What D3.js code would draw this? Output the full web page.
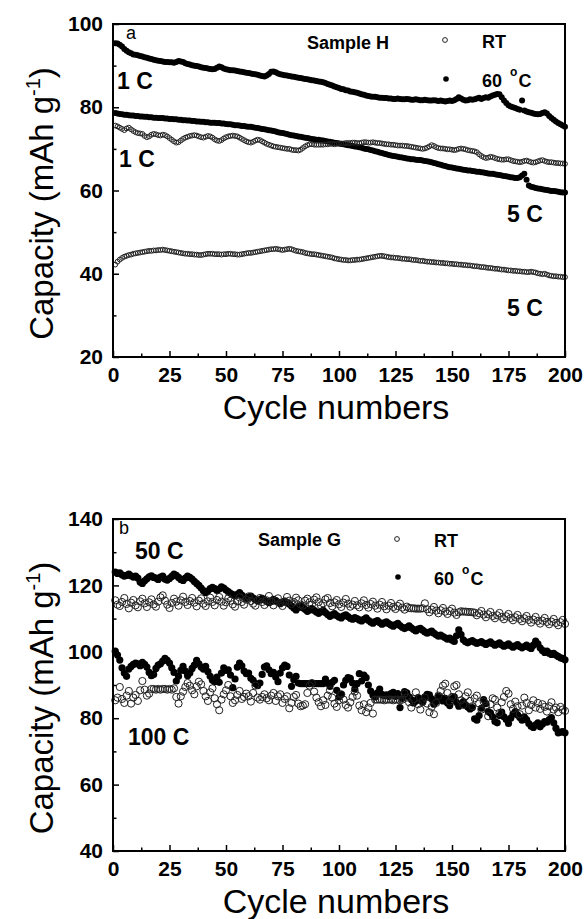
<!DOCTYPE html>
<html>
<head>
<meta charset="utf-8">
<script src="https://d3js.org/d3.v7.min.js"></script>
<style>
  body { margin: 0; background: #fff; }
  svg text { font-family: "Liberation Sans", Arial, sans-serif; fill: #000; }
  .axis text { font-weight: bold; font-size: 21px; }
  .axis line { stroke: #000; stroke-width: 1.5; }
  .axis .domain { stroke: none; }
  .lbl { font-weight: bold; font-size: 23px; }
  .leg { font-weight: bold; font-size: 18px; }
</style>
</head>
<body>
<svg id="chart" width="588" height="919"></svg>
<script>
// cycle numbers 1..200 for every series
const cycles = d3.range(1, 201);
const xTicks = [0, 25, 50, 75, 100, 125, 150, 175, 200];
const xMinor = [12.5, 37.5, 62.5, 87.5, 112.5, 137.5, 162.5, 187.5];
const yTicksH = [20, 40, 60, 80, 100];
const yMinorH = [30, 50, 70, 90];
const yTicksG = [40, 60, 80, 100, 120, 140];
const yMinorG = [50, 70, 90, 110, 130];

// Sample H, 60 C, 1 C rate
const h60_1C = [
  95.4, 95.3, 95.0, 94.6, 94.0, 93.6, 93.2, 93.0, 92.7, 92.6,
  92.5, 92.3, 92.2, 92.0, 91.9, 91.7, 91.6, 91.4, 91.3, 91.2,
  91.1, 91.0, 90.9, 90.9, 90.8, 90.8, 90.7, 90.9, 91.1, 91.0,
  90.9, 90.6, 90.4, 90.3, 90.1, 90.0, 89.9, 89.8, 89.6, 89.5,
  89.4, 89.3, 89.2, 89.1, 89.2, 89.5, 89.8, 89.6, 89.3, 89.1,
  89.0, 88.9, 88.9, 88.8, 88.7, 88.6, 88.5, 88.4, 88.3, 88.2,
  88.1, 88.0, 87.9, 87.8, 87.6, 87.5, 87.4, 87.6, 88.0, 88.5,
  88.6, 88.4, 88.1, 87.9, 87.8, 87.7, 87.6, 87.5, 87.4, 87.3,
  87.2, 87.1, 87.0, 86.9, 86.8, 86.7, 86.6, 86.5, 86.4, 86.3,
  86.2, 86.1, 86.0, 85.8, 85.6, 85.4, 85.2, 85.0, 84.8, 84.6,
  84.4, 84.3, 84.1, 84.0, 83.8, 83.7, 83.6, 83.5, 83.3, 83.1,
  83.0, 82.8, 82.7, 82.6, 82.5, 82.5, 82.4, 82.3, 82.3, 82.2,
  82.2, 82.1, 82.1, 82.0, 82.0, 82.1, 82.0, 81.9, 81.9, 82.0,
  81.9, 81.8, 81.8, 81.9, 81.8, 81.7, 81.7, 81.8, 81.7, 81.6,
  81.6, 81.7, 81.6, 81.5, 81.6, 81.5, 81.4, 81.5, 81.6, 81.5,
  81.7, 82.0, 82.4, 82.1, 81.8, 81.6, 81.7, 81.9, 81.8, 81.9,
  82.1, 82.3, 82.0, 82.2, 82.4, 82.3, 82.6, 82.8, 83.0, 83.2,
  83.1, 82.4, 81.6, 81.0, 80.5, 80.2, 80.0, 79.8, 79.6, 79.4,
  81.6, 79.2, 79.0, 78.8, 78.7, 78.5, 78.4, 78.3, 78.4, 78.6,
  78.8, 78.5, 77.9, 77.4, 77.0, 76.6, 76.2, 75.9, 75.6, 75.3
];
// Sample H, 60 C, 5 C rate
const h60_5C = [
  78.6, 78.5, 78.4, 78.3, 78.2, 78.2, 78.1, 78.0, 78.0, 77.9,
  77.9, 77.8, 77.8, 77.7, 77.7, 77.6, 77.6, 77.5, 77.5, 77.4,
  77.4, 77.4, 77.3, 77.3, 77.2, 77.2, 77.1, 77.1, 77.0, 77.0,
  76.9, 76.9, 76.8, 76.8, 76.7, 76.7, 76.6, 76.6, 76.5, 76.5,
  76.4, 76.4, 76.3, 76.3, 76.3, 76.2, 76.2, 76.1, 76.1, 76.0,
  75.9, 75.9, 75.8, 75.7, 75.7, 75.6, 75.5, 75.5, 75.4, 75.3,
  75.3, 75.2, 75.1, 75.0, 74.9, 74.8, 74.7, 74.6, 74.5, 74.4,
  74.3, 74.2, 74.0, 73.9, 73.8, 73.7, 73.6, 73.4, 73.3, 73.2,
  73.1, 73.0, 72.9, 72.8, 72.7, 72.6, 72.5, 72.4, 72.3, 72.2,
  72.2, 72.1, 72.0, 71.9, 71.8, 71.7, 71.6, 71.5, 71.4, 71.3,
  71.2, 71.1, 71.0, 70.9, 70.8, 70.7, 70.6, 70.5, 70.4, 70.3,
  70.1, 70.0, 69.9, 69.7, 69.6, 69.4, 69.3, 69.1, 69.0, 68.8,
  68.7, 68.5, 68.4, 68.3, 68.2, 68.1, 68.0, 67.9, 67.8, 67.7,
  67.6, 67.5, 67.5, 67.4, 67.3, 67.3, 67.2, 67.1, 67.0, 66.9,
  66.8, 66.6, 66.5, 66.3, 66.2, 66.0, 65.9, 65.7, 65.6, 65.5,
  65.4, 65.3, 65.2, 65.1, 65.0, 64.9, 64.8, 64.8, 64.7, 64.6,
  64.5, 64.5, 64.4, 64.3, 64.2, 64.1, 64.0, 64.0, 63.9, 63.8,
  63.7, 63.6, 63.5, 63.4, 63.3, 63.2, 63.1, 63.0, 63.0, 63.2,
  63.6, 64.0, 62.6, 61.2, 60.9, 60.8, 60.6, 60.5, 60.4, 60.3,
  60.2, 60.1, 60.0, 59.9, 59.9, 59.8, 59.7, 59.6, 59.5, 59.5
];
// Sample H, room temperature, 1 C rate
const hRT_1C = [
  75.6, 75.4, 75.1, 74.8, 74.5, 74.9, 75.1, 74.7, 74.3, 74.0,
  73.8, 73.7, 73.6, 73.1, 72.8, 73.0, 73.4, 73.6, 73.5, 73.3,
  73.2, 73.4, 73.3, 73.0, 72.6, 72.2, 71.8, 71.5, 71.6, 72.0,
  72.4, 72.7, 72.9, 73.1, 73.2, 73.3, 73.2, 73.0, 72.8, 72.7,
  72.9, 73.1, 73.0, 72.7, 72.3, 72.0, 71.9, 72.1, 72.5, 72.8,
  73.0, 73.1, 73.2, 73.1, 73.0, 72.7, 72.4, 72.1, 71.8, 71.6,
  71.5, 71.7, 72.0, 72.2, 72.1, 71.8, 71.5, 71.2, 71.0, 70.8,
  70.6, 70.5, 70.4, 70.3, 70.2, 70.1, 70.0, 70.0, 69.8, 69.7,
  69.7, 69.6, 69.8, 70.2, 70.6, 70.9, 71.1, 71.1, 71.0, 71.0,
  71.0, 71.0, 71.0, 71.1, 71.1, 71.2, 71.2, 71.1, 71.2, 71.3,
  71.3, 71.3, 71.4, 71.4, 71.4, 71.5, 71.5, 71.4, 71.4, 71.5,
  71.6, 71.6, 71.5, 71.5, 71.6, 71.5, 71.4, 71.4, 71.3, 71.2,
  71.1, 71.1, 71.0, 71.0, 70.9, 70.8, 70.8, 70.8, 70.7, 70.7,
  70.6, 70.5, 70.4, 70.3, 70.2, 70.1, 70.0, 70.1, 70.3, 70.6,
  70.9, 70.7, 70.4, 70.2, 70.1, 70.1, 70.0, 69.9, 69.9, 69.8,
  69.7, 69.8, 70.0, 70.1, 70.0, 69.9, 69.7, 69.6, 69.5, 69.4,
  69.2, 68.7, 68.3, 68.0, 67.8, 67.9, 68.1, 68.0, 67.8, 67.6,
  67.5, 67.4, 67.4, 67.5, 67.5, 67.3, 67.1, 67.0, 66.9, 66.8,
  66.9, 67.1, 67.2, 67.0, 66.8, 66.7, 66.8, 67.0, 67.2, 67.3,
  67.1, 66.9, 66.8, 66.8, 66.7, 66.6, 66.6, 66.5, 66.5, 66.4
];
// Sample H, room temperature, 5 C rate
const hRT_5C = [
  42.2, 42.9, 43.4, 43.8, 44.1, 44.3, 44.5, 44.6, 44.8, 44.9,
  45.0, 45.1, 45.2, 45.3, 45.4, 45.5, 45.5, 45.6, 45.6, 45.7,
  45.7, 45.8, 45.7, 45.6, 45.5, 45.4, 45.3, 45.2, 45.1, 45.0,
  44.9, 44.8, 44.8, 44.7, 44.7, 44.6, 44.6, 44.5, 44.5, 44.6,
  44.7, 44.8, 44.8, 44.8, 44.7, 44.7, 44.7, 44.6, 44.7, 44.7,
  44.8, 44.8, 44.7, 44.7, 44.6, 44.6, 44.7, 44.8, 44.9, 45.0,
  45.0, 45.1, 45.2, 45.3, 45.4, 45.5, 45.6, 45.7, 45.8, 45.9,
  45.9, 46.0, 45.9, 45.8, 45.7, 45.8, 45.9, 46.0, 45.9, 45.7,
  45.5, 45.4, 45.3, 45.2, 45.0, 44.9, 44.8, 44.7, 44.7, 44.6,
  44.5, 44.4, 44.3, 44.2, 44.1, 44.0, 43.9, 43.7, 43.6, 43.5,
  43.4, 43.3, 43.3, 43.2, 43.2, 43.3, 43.3, 43.4, 43.4, 43.5,
  43.6, 43.7, 43.8, 43.9, 44.0, 44.1, 44.2, 44.3, 44.3, 44.2,
  44.1, 44.0, 43.9, 43.9, 43.8, 43.8, 43.7, 43.6, 43.6, 43.5,
  43.5, 43.4, 43.3, 43.3, 43.2, 43.1, 43.1, 43.0, 42.9, 42.9,
  42.8, 42.8, 42.7, 42.7, 42.6, 42.6, 42.5, 42.5, 42.4, 42.4,
  42.3, 42.3, 42.2, 42.2, 42.1, 42.1, 42.0, 42.0, 41.9, 41.8,
  41.8, 41.7, 41.6, 41.6, 41.5, 41.4, 41.4, 41.3, 41.2, 41.2,
  41.1, 41.0, 41.0, 40.9, 40.8, 40.8, 40.7, 40.7, 40.6, 40.6,
  40.5, 40.5, 40.4, 40.4, 40.5, 40.4, 40.3, 40.1, 40.0, 39.9,
  40.0, 39.8, 39.6, 39.5, 39.4, 39.4, 39.3, 39.3, 39.2, 39.2
];
// Sample G, 60 C, 50 C rate
const g60_50C = [
  124.0, 123.6, 123.8, 123.2, 122.8, 123.0, 123.4, 122.9, 122.5, 122.8,
  122.2, 121.0, 120.6, 121.4, 122.0, 122.6, 122.9, 122.4, 122.2, 121.8,
  122.5, 122.8, 121.9, 121.6, 122.1, 122.7, 123.4, 123.0, 122.4, 121.8,
  121.5, 122.2, 122.8, 122.4, 121.9, 121.2, 120.6, 120.0, 119.2, 118.4,
  117.8, 118.3, 119.0, 119.4, 119.0, 118.5, 118.9, 119.6, 119.2, 118.6,
  118.1, 117.6, 117.2, 116.8, 117.3, 117.8, 117.1, 116.5, 116.0, 116.4,
  116.8, 116.2, 115.7, 115.3, 115.7, 116.1, 115.6, 115.2, 114.8, 115.3,
  115.8, 115.4, 114.9, 114.5, 114.9, 115.3, 114.8, 114.4, 113.8, 113.2,
  112.6, 113.4, 113.9, 113.3, 112.8, 112.2, 112.6, 113.0, 112.5, 112.0,
  111.6, 112.1, 112.5, 111.8, 111.2, 110.7, 111.1, 111.5, 110.9, 110.5,
  110.2, 110.8, 111.1, 110.6, 110.1, 109.8, 110.3, 110.0, 109.6, 109.3,
  109.8, 110.2, 109.5, 109.0, 108.6, 109.1, 109.4, 108.8, 108.3, 108.7,
  109.0, 108.5, 108.1, 107.7, 108.2, 108.6, 107.9, 107.4, 107.0, 107.4,
  107.8, 107.2, 106.7, 106.3, 106.8, 107.1, 106.5, 106.0, 105.6, 105.9,
  106.2, 105.6, 105.1, 104.7, 105.0, 104.6, 104.2, 103.8, 104.1, 103.5,
  103.1, 104.8, 106.6, 105.2, 103.6, 103.0, 102.7, 103.1, 103.4, 102.9,
  102.5, 102.8, 103.1, 102.6, 102.2, 102.6, 103.0, 102.4, 102.0, 102.3,
  102.7, 102.1, 101.7, 102.0, 102.4, 101.8, 101.4, 101.8, 102.2, 101.6,
  101.2, 101.6, 102.0, 101.4, 101.0, 102.0, 103.2, 102.4, 101.2, 100.4,
  99.8, 100.2, 99.6, 99.2, 99.5, 99.0, 98.6, 98.2, 98.0, 97.6
];
// Sample G, room temperature, 50 C rate
const gRT_50C = [
  115.5, 114.2, 113.8, 115.0, 116.2, 114.4, 113.1, 114.8, 115.6, 114.0,
  113.4, 115.2, 116.0, 114.6, 113.5, 114.9, 115.8, 114.3, 113.6, 115.1,
  116.4, 117.0, 115.4, 114.2, 113.2, 114.7, 116.0, 115.1, 113.9, 115.5,
  116.6, 115.0, 114.1, 115.3, 116.2, 114.8, 113.7, 115.4, 116.1, 114.5,
  113.8, 115.2, 116.3, 115.0, 114.0, 115.6, 116.5, 115.1, 113.9, 114.9,
  116.1, 115.4, 114.3, 113.6, 115.2, 116.4, 115.0, 114.2, 115.7, 116.7,
  115.3, 114.5, 113.9, 115.4, 116.2, 115.0, 114.1, 115.5, 116.8, 115.2,
  114.0, 115.3, 116.1, 114.8, 113.8, 115.1, 116.5, 115.4, 114.4, 115.0,
  116.3, 115.5, 114.2, 113.9, 115.4, 116.0, 114.9, 114.2, 115.7, 116.4,
  115.0, 114.0, 114.6, 115.8, 116.2, 114.7, 113.7, 114.9, 115.6, 114.3,
  113.5, 114.8, 115.9, 114.5, 113.6, 114.2, 115.3, 114.0, 113.4, 114.6,
  115.5, 114.1, 113.3, 114.4, 115.1, 113.9, 113.0, 114.2, 115.0, 113.7,
  112.8, 113.9, 114.7, 113.5, 112.9, 113.8, 114.5, 113.3, 112.7, 113.6,
  113.2, 113.1, 113.1, 113.0, 113.0, 113.0, 113.1, 114.6, 112.8, 111.9,
  112.7, 113.5, 112.4, 111.6, 112.5, 113.2, 112.1, 111.4, 112.3, 113.0,
  111.8, 111.1, 111.9, 112.2, 112.1, 112.1, 112.0, 112.0, 111.9, 111.8,
  111.0, 111.6, 112.3, 111.2, 110.4, 111.3, 112.0, 110.8, 110.1, 111.0,
  111.7, 110.5, 109.8, 110.7, 111.4, 110.2, 109.5, 110.4, 111.1, 109.9,
  109.2, 110.1, 110.8, 109.6, 108.8, 109.7, 110.5, 109.3, 108.5, 109.4,
  110.2, 109.0, 108.3, 109.1, 109.9, 108.7, 108.0, 108.9, 109.6, 108.4
];
// Sample G, 60 C, 100 C rate
const g60_100C = [
  100.2, 99.0, 97.5, 95.2, 93.6, 92.6, 94.8, 95.6, 96.2, 96.6,
  96.4, 95.8, 96.8, 96.2, 95.4, 93.8, 92.8, 93.2, 95.0, 96.0,
  96.4, 97.2, 98.0, 97.4, 96.6, 95.2, 93.8, 91.2, 92.6, 94.4,
  95.6, 94.2, 92.8, 93.6, 95.0, 96.0, 97.4, 96.4, 95.4, 94.8,
  95.6, 94.0, 92.6, 91.4, 91.0, 92.4, 90.8, 93.6, 95.2, 94.4,
  94.6, 93.0, 89.2, 91.8, 95.4, 96.6, 95.8, 94.2, 93.4, 93.6,
  92.0, 91.4, 90.4, 89.8, 90.6, 93.2, 95.4, 95.8, 94.6, 93.4,
  93.8, 92.4, 91.0, 93.6, 95.2, 96.0, 95.6, 93.0, 89.6, 91.6,
  92.6, 90.6, 90.4, 90.4, 90.4, 90.4, 90.4, 90.4, 90.4, 90.4,
  90.4, 90.4, 90.4, 91.8, 90.6, 89.6, 90.8, 91.4, 88.4, 86.4,
  87.2, 90.0, 91.4, 92.2, 92.0, 90.6, 88.8, 90.4, 93.4, 91.2,
  93.0, 92.2, 90.0, 88.2, 87.0, 86.4, 87.6, 88.8, 87.2, 86.8,
  87.0, 86.6, 87.4, 87.8, 86.6, 87.4, 83.2, 86.0, 88.0, 87.6,
  86.4, 85.6, 84.6, 85.2, 86.2, 85.4, 84.8, 86.4, 87.2, 87.0,
  85.8, 84.2, 85.0, 86.6, 86.2, 85.2, 86.0, 84.6, 83.8, 85.8,
  86.4, 84.8, 83.6, 84.2, 85.0, 84.0, 83.4, 82.8, 83.2, 79.8,
  79.4, 80.8, 83.0, 85.6, 84.4, 82.0, 81.6, 80.4, 79.0, 78.6,
  80.8, 81.8, 80.4, 79.6, 78.4, 80.0, 81.2, 82.0, 81.0, 80.2,
  79.4, 80.4, 79.6, 78.4, 77.6, 77.2, 78.0, 78.6, 77.4, 78.2,
  79.0, 78.8, 79.6, 80.2, 78.6, 77.0, 75.6, 75.8, 76.0, 75.6
];
// Sample G, room temperature, 100 C rate
const gRT_100C = [
  85.4, 86.2, 89.4, 85.8, 84.6, 86.8, 88.2, 84.4, 86.2, 87.0,
  85.2, 88.4, 91.2, 88.6, 86.8, 87.4, 88.8, 88.8, 88.6, 88.8,
  88.6, 88.8, 88.8, 88.6, 88.8, 88.6, 89.0, 86.4, 84.4, 86.6,
  88.0, 89.4, 90.6, 89.8, 88.4, 87.2, 89.6, 91.0, 90.2, 88.2,
  86.6, 85.2, 87.8, 89.0, 86.0, 84.2, 82.4, 85.6, 87.2, 88.4,
  90.0, 86.6, 84.6, 85.4, 87.0, 88.2, 85.8, 86.4, 87.4, 86.6,
  85.0, 87.6, 89.8, 86.2, 85.6, 86.4, 87.2, 86.0, 85.4, 86.8,
  87.6, 85.2, 86.6, 87.2, 84.6, 85.8, 86.6, 83.0, 84.6, 86.4,
  87.0, 84.4, 83.6, 83.8, 84.2, 87.6, 89.8, 90.6, 88.0, 86.2,
  84.8, 83.6, 85.4, 84.0, 86.8, 88.4, 86.2, 84.4, 83.4, 85.4,
  87.2, 85.6, 84.0, 83.2, 84.8, 86.4, 88.0, 86.8, 83.8, 82.4,
  84.2, 81.8, 83.2, 84.6, 81.4, 85.6, 85.6, 85.6, 85.6, 85.4,
  85.6, 85.6, 85.6, 85.4, 85.6, 85.6, 85.4, 85.6, 87.4, 86.2,
  84.8, 83.2, 85.8, 87.8, 84.2, 82.6, 85.0, 86.2, 84.4, 81.8,
  83.4, 81.2, 84.6, 86.8, 88.2, 89.8, 90.4, 87.6, 85.0, 86.4,
  89.6, 90.0, 87.2, 85.4, 84.0, 86.6, 87.8, 85.2, 83.6, 86.0,
  86.8, 84.4, 82.6, 85.0, 83.8, 80.6, 84.2, 86.0, 85.6, 83.2,
  81.6, 84.8, 86.4, 88.2, 87.4, 84.2, 82.8, 85.0, 83.6, 81.2,
  83.8, 86.2, 84.6, 82.4, 84.0, 85.4, 83.2, 84.6, 82.8, 84.2,
  83.4, 82.0, 83.6, 84.8, 82.6, 83.2, 81.8, 83.4, 82.6, 82.2
];

const svg = d3.select('#chart');

function drawPanel(p) {
  const x = d3.scaleLinear().domain([0, 200]).range([p.left, p.right]);
  const y = d3.scaleLinear().domain(p.yDomain).range([p.bottom, p.top]);
  const g = svg.append('g');

  // minor ticks
  g.append('g').attr('class', 'axis')
    .attr('transform', `translate(0,${p.bottom})`)
    .call(d3.axisBottom(x).tickValues(xMinor).tickSize(-3.5).tickFormat(''));
  g.append('g').attr('class', 'axis')
    .attr('transform', `translate(${p.left},0)`)
    .call(d3.axisLeft(y).tickValues(p.yMinor).tickSize(-3.5).tickFormat(''));

  // major ticks, pointing inward
  g.append('g').attr('class', 'axis')
    .attr('transform', `translate(0,${p.bottom})`)
    .call(d3.axisBottom(x).tickValues(xTicks).tickSize(-6).tickPadding(10));
  g.append('g').attr('class', 'axis')
    .attr('transform', `translate(${p.left},0)`)
    .call(d3.axisLeft(y).tickValues(p.yTicks).tickSize(-6).tickPadding(10));

  // data
  p.series.forEach(s => {
    g.append('g').selectAll('circle').data(s.values)
      .join('circle')
      .attr('cx', (d, i) => x(cycles[i]))
      .attr('cy', d => y(d))
      .attr('r', s.r)
      .attr('fill', s.filled ? '#000' : 'none')
      .attr('stroke', s.filled ? 'none' : '#222')
      .attr('stroke-width', 1);
  });

  // frame
  g.append('rect')
    .attr('x', p.left).attr('y', p.top)
    .attr('width', p.right - p.left).attr('height', p.bottom - p.top)
    .attr('fill', 'none').attr('stroke', '#000').attr('stroke-width', 2);

  // axis titles
  g.append('text')
    .attr('x', (p.left + p.right) / 2 - 3).attr('y', p.bottom + 62)
    .attr('text-anchor', 'middle').attr('font-size', 34)
    .text('Cycle numbers');
  const yt = g.append('text')
    .attr('transform', `translate(53,${(p.top + p.bottom) / 2 + 13}) rotate(-90)`)
    .attr('text-anchor', 'middle').attr('font-size', 33);
  yt.append('tspan').text('Capacity (mAh g');
  yt.append('tspan').attr('dy', -13).attr('font-size', 20).text('-1');
  yt.append('tspan').attr('dy', 13).text(')');

  // panel letter, sample name, rate labels
  g.append('text').attr('x', p.letter[0]).attr('y', p.letter[1])
    .attr('font-size', 18).text(p.letter[2]);
  g.append('text').attr('class', 'leg').attr('x', p.sample[0]).attr('y', p.sample[1])
    .text(p.sample[2]);
  p.rates.forEach(r => {
    g.append('text').attr('class', 'lbl').attr('x', r[0]).attr('y', r[1]).text(r[2]);
  });

  // legend
  const L = p.legend;
  g.append('circle').attr('cx', L.x).attr('cy', L.y1).attr('r', 2.4)
    .attr('fill', 'none').attr('stroke', '#222');
  g.append('circle').attr('cx', L.x + 1).attr('cy', L.y2).attr('r', 2.8).attr('fill', '#000');
  g.append('text').attr('class', 'leg').attr('x', L.tx).attr('y', L.y1 + 8).text('RT');
  const t60 = g.append('text').attr('class', 'leg').attr('x', L.tx).attr('y', L.y2 + 8);
  t60.append('tspan').text('60');
  t60.append('tspan').attr('dx', 8).attr('dy', -11).attr('font-size', 12).text('o');
  t60.append('tspan').attr('dx', 1).attr('dy', 11).text('C');
}

drawPanel({
  left: 113, right: 565, top: 24, bottom: 357,
  yDomain: [20, 100], yTicks: yTicksH, yMinor: yMinorH,
  letter: [126, 39, 'a'], sample: [307, 49, 'Sample H'],
  rates: [[117, 89, '1 C'], [119, 167, '1 C'], [507, 222, '5 C'], [507, 316, '5 C']],
  legend: { x: 445, y1: 40, y2: 79, tx: 482 },
  series: [
    { values: h60_1C, filled: true, r: 3 },
    { values: h60_5C, filled: true, r: 3 },
    { values: hRT_1C, filled: false, r: 2.4 },
    { values: hRT_5C, filled: false, r: 2.4 }
  ]
});

drawPanel({
  left: 113, right: 565, top: 519, bottom: 851,
  yDomain: [40, 140], yTicks: yTicksG, yMinor: yMinorG,
  letter: [119, 534, 'b'], sample: [258, 546, 'Sample G'],
  rates: [[135, 559, '50 C'], [128, 745, '100 C']],
  legend: { x: 397, y1: 539, y2: 577, tx: 434 },
  series: [
    { values: g60_50C, filled: true, r: 3.6 },
    { values: g60_100C, filled: true, r: 3.6 },
    { values: gRT_50C, filled: false, r: 3.6 },
    { values: gRT_100C, filled: false, r: 3.6 }
  ]
});
</script>
</body>
</html>
